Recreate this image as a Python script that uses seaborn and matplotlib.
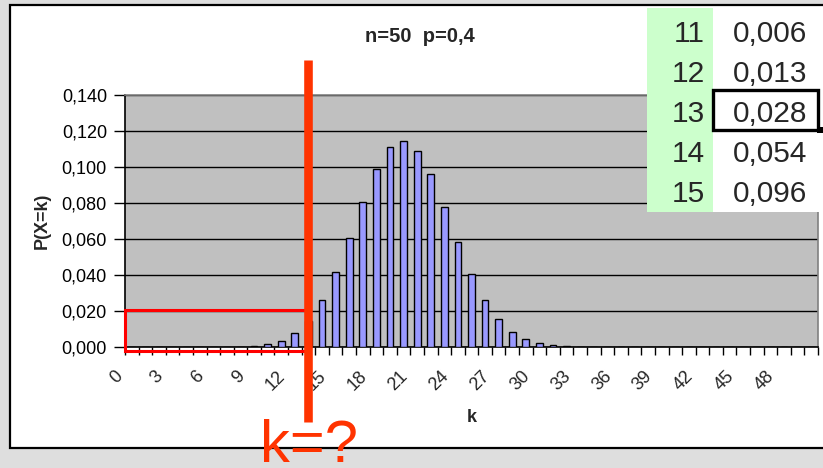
import matplotlib
matplotlib.use("Agg")
import matplotlib.pyplot as plt
import seaborn as sns
import pandas as pd
from matplotlib.patches import Rectangle
from matplotlib.lines import Line2D
from matplotlib.ticker import FuncFormatter, FixedLocator
from matplotlib.transforms import ScaledTranslation, blended_transform_factory

# Binomial distribution n=50, p=0.4: P(X=k) for k = 0..50
k_values = list(range(51))
p_values = [0.0, 0.0, 0.0, 0.0, 0.0, 0.0, 0.0, 0.0, 0.0002, 0.0005,
            0.0014, 0.0035, 0.0076, 0.0147, 0.0260, 0.0415, 0.0606, 0.0808, 0.0987, 0.1109,
            0.1146, 0.1091, 0.0959, 0.0778, 0.0584, 0.0405, 0.0259, 0.0154, 0.0084, 0.0043,
            0.0020, 0.0009, 0.0003, 0.0001] + [0.0] * 17

# Cumulative values shown in the spreadsheet excerpt
table_k = [11, 12, 13, 14, 15]
table_cdf = [0.006, 0.013, 0.028, 0.054, 0.096]
selected_k = 13

y_ticks = [0.0, 0.02, 0.04, 0.06, 0.08, 0.10, 0.12, 0.14]
x_label_ticks = list(range(0, 51, 3))

title_text = "n=50  p=0,4"

sns.set_style("white")
plt.rcParams["font.family"] = ["Liberation Sans", "DejaVu Sans"]

W, H = 823, 468
fig = plt.figure(figsize=(W / 100, H / 100), dpi=100, facecolor="#DEDEDE")


def fx(px):
    return px / W


def fy(py):
    return 1 - py / H


def comma(v, nd=3):
    return f"{v:.{nd}f}".replace(".", ",")


# white chart area with black frame
fig.patches.append(Rectangle((fx(10), fy(448)), fx(840) - fx(10), fy(5) - fy(448),
                             transform=fig.transFigure, facecolor="white",
                             edgecolor="black", linewidth=1.6, zorder=-1))

ax = fig.add_axes([fx(125), fy(347), fx(818) - fx(125), fy(95) - fy(347)])
ax.set_facecolor("#C0C0C0")

df = pd.DataFrame({"k": k_values, "p": p_values})
sns.barplot(data=df, x="k", y="p", ax=ax, color="#9999FF", saturation=1,
            edgecolor="black", linewidth=1.0, width=0.5, zorder=3)

ax.set_xlim(-0.5, 50.5)
ax.set_ylim(0, 0.14)

# y axis
ax.set_yticks(y_ticks)
ax.yaxis.set_major_formatter(FuncFormatter(lambda v, _: comma(v)))
ax.tick_params(axis="y", which="major", direction="out", length=8, width=1,
               color="black", pad=5, labelsize=13, labelcolor="black", left=True)
ax.yaxis.grid(True, color="black", linewidth=1)
ax.xaxis.grid(False)
ax.set_axisbelow(True)

# x axis: labels every third category, tick marks on category boundaries
ax.xaxis.set_major_locator(FixedLocator(x_label_ticks))
ax.set_xticklabels([str(k) for k in x_label_ticks])
ax.xaxis.set_minor_locator(FixedLocator([i - 0.5 for i in range(52)]))
ax.tick_params(axis="x", which="major", length=0, pad=0, labelsize=13, bottom=True)
ax.tick_params(axis="x", which="minor", direction="out", length=6, width=1,
               color="black", bottom=True)
shift = ScaledTranslation(-0.12, -0.27, fig.dpi_scale_trans)
for lab in ax.get_xticklabels():
    lab.set_rotation(45)
    lab.set_ha("right")
    lab.set_va("center")
    lab.set_rotation_mode("anchor")
    lab.set_transform(lab.get_transform() + shift)

for side in ("left", "bottom"):
    ax.spines[side].set_color("black")
    ax.spines[side].set_linewidth(1.2)
for side in ("top", "right"):
    ax.spines[side].set_color("#808080")
    ax.spines[side].set_linewidth(1.2)

ax.set_xlabel("k", fontsize=13, fontweight="bold")
ax.set_ylabel("P(X=k)", fontsize=13, fontweight="bold")
ax.xaxis.set_label_coords(0.5, (347 - 417) / 252)
ax.xaxis.label.set_va("center")
ax.yaxis.set_label_coords((42 - 125) / 693, 0.5)
ax.yaxis.label.set_va("center")

fig.text(fx(420), fy(36), title_text, fontsize=14.5, fontweight="bold",
         ha="center", va="center")

# highlighted region of small k values
ax.add_patch(Rectangle((-0.5, -0.0022), selected_k + 0.3, 0.0227, fill=False,
                       edgecolor="#FF0000", linewidth=2.2, clip_on=False, zorder=8))

# vertical marker at the selected k
mixed = blended_transform_factory(ax.transData, fig.transFigure)
fig.add_artist(Line2D([selected_k, selected_k], [fy(60), fy(422)], transform=mixed,
                      color="#FF3300", linewidth=6.2, solid_capstyle="butt", zorder=9))
fig.text(fx(309), fy(462), "k=?", fontsize=43, color="#FF3300",
         ha="center", va="baseline", zorder=9)

# spreadsheet excerpt
fig.patches.append(Rectangle((fx(647), fy(212)), fx(713) - fx(647), fy(8) - fy(212),
                             transform=fig.transFigure, facecolor="#CCFFCC",
                             edgecolor="none", zorder=5))
fig.patches.append(Rectangle((fx(713), fy(212)), fx(840) - fx(713), fy(8) - fy(212),
                             transform=fig.transFigure, facecolor="white",
                             edgecolor="none", zorder=5))
for i, (kk, cv) in enumerate(zip(table_k, table_cdf)):
    base = 41.5 + 40 * i
    fig.text(fx(705), fy(base), str(kk), fontsize=21.5, ha="right", va="baseline", zorder=6)
    fig.text(fx(807), fy(base), comma(cv), fontsize=21.5, ha="right", va="baseline", zorder=6)
    if kk == selected_k:
        top = 10 + 40 * i
        fig.patches.append(Rectangle((fx(713), fy(top + 40)), fx(818) - fx(713),
                                     fy(top) - fy(top + 40), transform=fig.transFigure,
                                     fill=False, edgecolor="black", linewidth=2.4, zorder=7))
        fig.patches.append(Rectangle((fx(817), fy(top + 43)), fx(823) - fx(817),
                                     fy(top + 37) - fy(top + 43), transform=fig.transFigure,
                                     facecolor="black", edgecolor="none", zorder=7))

fig.savefig("out.png", dpi=100, facecolor=fig.get_facecolor())
